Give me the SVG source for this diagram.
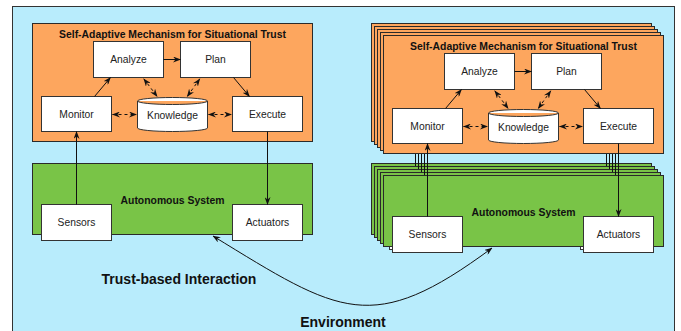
<svg xmlns="http://www.w3.org/2000/svg" xmlns:xlink="http://www.w3.org/1999/xlink" width="681" height="331" viewBox="0 0 681 331">
  <style>
    .env { fill: #b8ecfc; stroke: #333; stroke-width: 1; }
    .mech { fill: #fda65e; stroke: #2a2a2a; stroke-width: 1; }
    .sys { fill: #79c447; stroke: #2a2a2a; stroke-width: 1; }
    .box { fill: #fff; stroke: #333; stroke-width: 1; }
    .lbl { font-family: "Liberation Sans", Arial, sans-serif; font-size: 10.3px; fill: #222; text-anchor: middle; }
    .ttl { font-family: "Liberation Sans", Arial, sans-serif; font-size: 10.4px; font-weight: bold; fill: #111; text-anchor: middle; }
    .big { font-family: "Liberation Sans", Arial, sans-serif; font-size: 14px; font-weight: bold; fill: #111; text-anchor: middle; }
    .edge { fill: none; stroke: #111; stroke-width: 1; }
    .dash { stroke-dasharray: 3 3; }
    .arr { marker-end: url(#head); }
    .bi { marker-start: url(#head); marker-end: url(#head); }
  </style>
  <defs>
    <marker id="head" viewBox="0 0 8 6" refX="7.5" refY="3" markerWidth="8" markerHeight="6" markerUnits="userSpaceOnUse" orient="auto-start-reverse">
      <path d="M0,0 L8,3 L0,6 L2.5,3 z" fill="#111"/>
    </marker>
    <!-- one copy of a system instance, used for the layers behind the front one -->
    <g id="stack-layer">
      <rect class="mech" width="280" height="118"/>
      <rect class="sys" y="140" width="280" height="71"/>
      <path class="edge" d="M44,181 V108 M235,108 V181"/>
      <rect class="box" x="9" y="181" width="70" height="36"/>
      <rect class="box" x="200" y="181" width="70" height="36"/>
    </g>
  </defs>

  <!-- environment -->
  <g id="environment">
    <rect class="env" x="12.5" y="6.5" width="662" height="340"/>
    <text class="big" x="343" y="327">Environment</text>
  </g>

  <!-- single system instance -->
  <g id="left-system" transform="translate(32.5,23.5)">
    <g id="left-mechanism">
      <rect class="mech" width="280" height="118"/>
      <text class="ttl" x="140" y="14.5">Self-Adaptive Mechanism for Situational Trust</text>
    </g>
    <g id="left-analyze">
      <rect class="box" x="61" y="18" width="70" height="36"/>
      <text class="lbl" x="96" y="39.7">Analyze</text>
    </g>
    <g id="left-plan">
      <rect class="box" x="148" y="18" width="70" height="36"/>
      <text class="lbl" x="183" y="39.7">Plan</text>
    </g>
    <g id="left-monitor">
      <rect class="box" x="9" y="73" width="70" height="35"/>
      <text class="lbl" x="44" y="94">Monitor</text>
    </g>
    <g id="left-execute">
      <rect class="box" x="200" y="73" width="70" height="35"/>
      <text class="lbl" x="235" y="94">Execute</text>
    </g>
    <g id="left-knowledge">
      <path class="box" d="M105,77.5 a35,3.5 0 0 1 70,0 v27 a35,3.5 0 0 1 -70,0 z M105,77.5 a35,3.5 0 0 0 70,0"/>
      <text class="lbl" x="140" y="95.5">Knowledge</text>
    </g>
    <g id="left-autonomous-system">
      <rect class="sys" y="140" width="280" height="71"/>
      <text class="ttl" x="140" y="180">Autonomous System</text>
    </g>
    <g id="left-sensors">
      <rect class="box" x="9" y="181" width="70" height="36"/>
      <text class="lbl" x="44" y="202.7">Sensors</text>
    </g>
    <g id="left-actuators">
      <rect class="box" x="200" y="181" width="70" height="36"/>
      <text class="lbl" x="235" y="202.7">Actuators</text>
    </g>
    <g id="left-connectors">
      <path class="edge arr" d="M62,73 L78,54"/>
      <path class="edge arr" d="M131,36 H148"/>
      <path class="edge arr" d="M201,54 L217,73"/>
      <path class="edge dash bi" d="M111.3,55.3 L124.7,73"/>
      <path class="edge dash bi" d="M167.3,55.3 L154.7,73"/>
      <path class="edge dash bi" d="M80,91 H104"/>
      <path class="edge dash bi" d="M176,91 H199"/>
      <path class="edge arr" d="M44,181 V108"/>
      <path class="edge arr" d="M235,108 V181"/>
    </g>
  </g>

  <!-- stacked system instances -->
  <g id="stack-back">
    <use xlink:href="#stack-layer" transform="translate(371.5,23.5)"/>
    <use xlink:href="#stack-layer" transform="translate(374.5,26.5)"/>
    <use xlink:href="#stack-layer" transform="translate(377.5,29.5)"/>
    <use xlink:href="#stack-layer" transform="translate(380.5,32.5)"/>
  </g>
  <g id="right-system" transform="translate(383.5,35.5)">
    <g id="right-mechanism">
      <rect class="mech" width="280" height="118"/>
      <text class="ttl" x="140" y="14.5">Self-Adaptive Mechanism for Situational Trust</text>
    </g>
    <g id="right-analyze">
      <rect class="box" x="61" y="18" width="70" height="36"/>
      <text class="lbl" x="96" y="39.7">Analyze</text>
    </g>
    <g id="right-plan">
      <rect class="box" x="148" y="18" width="70" height="36"/>
      <text class="lbl" x="183" y="39.7">Plan</text>
    </g>
    <g id="right-monitor">
      <rect class="box" x="9" y="73" width="70" height="35"/>
      <text class="lbl" x="44" y="94">Monitor</text>
    </g>
    <g id="right-execute">
      <rect class="box" x="200" y="73" width="70" height="35"/>
      <text class="lbl" x="235" y="94">Execute</text>
    </g>
    <g id="right-knowledge">
      <path class="box" d="M105,77.5 a35,3.5 0 0 1 70,0 v27 a35,3.5 0 0 1 -70,0 z M105,77.5 a35,3.5 0 0 0 70,0"/>
      <text class="lbl" x="140" y="95.5">Knowledge</text>
    </g>
    <g id="right-autonomous-system">
      <rect class="sys" y="140" width="280" height="71"/>
      <text class="ttl" x="140" y="180">Autonomous System</text>
    </g>
    <g id="right-sensors">
      <rect class="box" x="9" y="181" width="70" height="36"/>
      <text class="lbl" x="44" y="202.7">Sensors</text>
    </g>
    <g id="right-actuators">
      <rect class="box" x="200" y="181" width="70" height="36"/>
      <text class="lbl" x="235" y="202.7">Actuators</text>
    </g>
    <g id="right-connectors">
      <path class="edge arr" d="M62,73 L78,54"/>
      <path class="edge arr" d="M131,36 H148"/>
      <path class="edge arr" d="M201,54 L217,73"/>
      <path class="edge dash bi" d="M111.3,55.3 L124.7,73"/>
      <path class="edge dash bi" d="M167.3,55.3 L154.7,73"/>
      <path class="edge dash bi" d="M80,91 H104"/>
      <path class="edge dash bi" d="M176,91 H199"/>
      <path class="edge arr" d="M44,181 V108"/>
      <path class="edge arr" d="M235,108 V181"/>
    </g>
  </g>

  <!-- interaction between the systems -->
  <g id="interaction">
    <path class="edge bi" d="M213,236 C340,314 372,337 492,248"/>
    <text class="big" x="179" y="284">Trust-based Interaction</text>
  </g>
</svg>
